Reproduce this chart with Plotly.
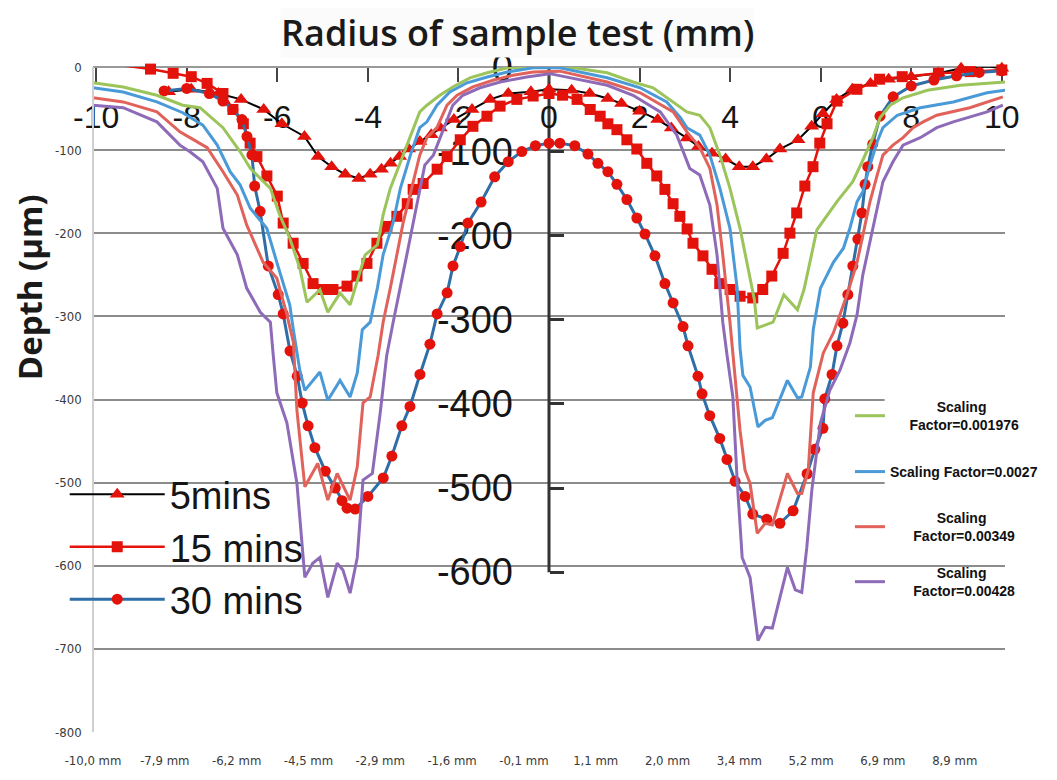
import plotly.graph_objects as go

# ---- overlay chart: depth profiles vs radius (mm / um) ----
t5_x = [-8.4, -7.9, -7.3, -6.8, -6.3, -5.9, -5.4, -5.1, -4.8, -4.5, -4.2, -3.95, -3.7, -3.5, -3.3, -3.1,
        -2.85, -2.6, -2.4, -2.1, -1.7, -1.3, -0.9, -0.4, 0.0, 0.5, 0.9, 1.3, 1.6, 2.0, 2.4, 2.7, 3.05,
        3.3, 3.6, 3.9, 4.2, 4.5, 4.8, 5.1, 5.5, 5.8, 6.05, 6.35, 6.7, 7.1, 7.5, 8.0, 8.6, 9.1, 9.7, 10.0]
t5_y = [-29, -26, -31, -38, -50, -67, -82, -106, -118, -127, -132, -127, -121, -114, -106, -97,
        -88, -80, -72, -62, -50, -38, -31, -29, -26, -27, -31, -37, -43, -52, -62, -72, -84,
        -94, -102, -109, -118, -118, -109, -97, -86, -70, -55, -38, -26, -19, -14, -11, -7, -1, 1, -1]

t15_x = [-9.5, -8.8, -8.3, -7.9, -7.55, -7.2, -6.98, -6.75, -6.6, -6.45, -6.23, -6.0, -5.87, -5.65,
         -5.43, -5.21, -4.99, -4.77, -4.46, -4.24, -4.02, -3.8, -3.58, -3.36, -3.13, -3.0, -2.78,
         -2.47, -2.25, -1.96, -1.68, -1.37, -1.08, -0.71, -0.35, 0.0, 0.3, 0.62, 0.91, 1.13, 1.3,
         1.5, 1.72, 1.94, 2.16, 2.38, 2.56, 2.74, 2.89, 3.05, 3.18, 3.4, 3.6, 3.77, 4.0, 4.22, 4.5,
         4.72, 4.92, 5.17, 5.32, 5.47, 5.65, 5.83, 5.98, 6.14, 6.36, 6.8, 7.3, 7.8, 8.6, 9.3, 10.0]
t15_y = [3, -2, -7, -11, -19, -31, -50, -67, -90, -106, -129, -153, -185, -209,
         -233, -257, -264, -264, -260, -248, -233, -209, -189, -177, -162, -145, -138,
         -121, -106, -86, -70, -58, -46, -38, -34, -31, -33, -38, -50, -58, -67,
         -74, -86, -97, -114, -129, -145, -162, -177, -192, -209, -224, -240, -257, -264, -272, -274,
         -264, -248, -221, -197, -173, -141, -118, -90, -67, -40, -26, -14, -11, -7, -5, -3]

t30_x = [-8.5, -8.0, -7.5, -7.2, -6.98, -6.78, -6.67, -6.56, -6.5, -6.38, -6.2, -5.98, -5.87, -5.72,
         -5.56, -5.45, -5.32, -5.17, -4.94, -4.72, -4.57, -4.46, -4.28, -4.0, -3.66, -3.47, -3.25,
         -3.07, -2.85, -2.63, -2.47, -2.25, -2.12, -1.96, -1.79, -1.5, -1.2, -0.9, -0.6, -0.3, 0.0,
         0.24, 0.57, 0.86, 1.08, 1.3, 1.5, 1.72, 1.94, 2.12, 2.34, 2.56, 2.74, 2.96, 3.07, 3.29,
         3.38, 3.55, 3.77, 3.93, 4.11, 4.33, 4.5, 4.81, 5.1, 5.39, 5.7, 5.87, 6.05, 6.09, 6.25,
         6.36, 6.49, 6.6, 6.71, 6.82, 6.91, 6.98, 7.04, 7.15, 7.31, 7.6, 8.0, 8.5, 9.0, 9.5, 10.0]
t30_y = [-28, -25, -31, -40, -50, -62, -82, -104, -141, -171, -236, -270, -293, -337,
         -367, -399, -426, -452, -480, -500, -515, -524, -525, -510, -488, -462, -426,
         -403, -365, -329, -293, -268, -236, -213, -185, -160, -130, -112, -100, -93, -90,
         -90, -93, -103, -114, -124, -139, -157, -179, -198, -224, -257, -280, -308, -331, -367,
         -388, -414, -441, -466, -492, -510, -531, -537, -542, -527, -483, -454, -429, -394, -365,
         -331, -304, -270, -236, -204, -173, -139, -118, -91, -58, -35, -22, -15, -10, -6, -4]

# ---- base chart: simulated profiles on a category axis (index 0..127) ----
cat_labels = ["-10,0 mm", "-7,9 mm", "-6,2 mm", "-4,5 mm", "-2,9 mm", "-1,6 mm", "-0,1 mm",
              "1,1 mm", "2,0 mm", "3,4 mm", "5,2 mm", "6,9 mm", "8,9 mm"]

green_u = [0, 4.2, 8.9, 12.5, 14.9, 18.1, 20.5, 21.9, 24.7, 26.0, 27.4, 28.8, 29.8, 31.6, 32.7, 34.4,
           35.8, 36.9, 37.9, 39.6, 40.4, 41.4, 42.8, 44.2, 45.5, 46.5, 48.3, 50.1, 52.5, 54.9, 57.7,
           61.3, 66.9, 71.6, 75.2, 78.0, 80.8, 82.7, 84.5, 85.9, 87.3, 88.7, 90.1, 91.1, 92.1, 92.5,
           93.9, 94.7, 96.2, 98.1, 99.0, 100.8, 103.6, 105.8, 107.1, 108.6, 109.6, 111.0, 112.8,
           116.2, 120.8, 125.9, 127]
green_v = [-19, -24, -34, -46, -49, -73, -102, -122, -146, -178, -206, -242, -283, -268, -295, -272,
           -286, -254, -226, -214, -178, -146, -114, -82, -54, -46, -34, -24, -13, -7, -1,
           0, -1, -7, -18, -25, -42, -54, -58, -73, -106, -146, -194, -235, -280, -314,
           -310, -307, -274, -292, -268, -196, -162, -138, -114, -85, -61, -46, -37,
           -28, -22, -19, -18]

blue_u = [0, 4.2, 8.9, 12.5, 15.3, 17.3, 19.1, 20.5, 21.9, 24.2, 25.6, 27.4, 27.9, 28.8, 29.5, 31.6,
          32.7, 34.4, 35.8, 36.8, 37.5, 38.6, 39.6, 40.4, 41.8, 42.8, 44.2, 45.5, 46.5, 47.9, 49.7,
          52.1, 54.9, 57.7, 61.3, 65.0, 71.6, 76.2, 79.9, 81.8, 82.7, 84.5, 85.9, 87.3, 88.7, 89.7,
          90.1, 90.5, 91.5, 92.6, 93.6, 94.6, 96.7, 98.1, 98.7, 99.9, 100.3, 101.3, 103.1, 104.5,
          105.4, 106.4, 107.2, 108.2, 109.2, 110.0, 112.0, 115.2, 119.8, 124.5, 127]
blue_v = [-25, -30, -42, -55, -70, -94, -126, -142, -170, -194, -235, -286, -316, -365, -389, -367,
          -401, -377, -397, -368, -316, -307, -266, -226, -187, -146, -106, -73, -66, -46, -30,
          -19, -12, -6, -1, -1, -13, -25, -42, -61, -73, -82, -106, -146, -194, -266,
          -338, -371, -385, -433, -425, -422, -377, -398, -397, -361, -316, -266, -235, -218,
          -194, -162, -150, -118, -90, -73, -58, -49, -42, -31, -28]

red_u = [0, 4.2, 8.9, 12.1, 13.5, 15.9, 18.1, 20.1, 21.4, 23.7, 25.6, 27.0, 27.9, 28.4, 29.5, 31.3,
         32.7, 34.0, 35.8, 36.8, 37.6, 38.6, 39.7, 40.4, 41.4, 42.3, 43.2, 44.6, 45.5, 46.5, 47.9,
         49.3, 50.7, 52.9, 55.7, 58.5, 61.3, 65.0, 71.6, 76.2, 80.8, 82.7, 84.5, 85.9, 86.9, 87.7,
         88.7, 90.1, 90.8, 91.5, 92.5, 93.6, 94.6, 96.7, 98.1, 98.7, 99.6, 100.3, 101.7, 103.1,
         105.0, 106.4, 107.2, 108.2, 109.2, 110.0, 111.4, 112.8, 114.2, 115.6, 117.5, 122.1, 126.7]
red_v = [-37, -42, -54, -78, -85, -97, -126, -154, -190, -235, -254, -298, -331, -413, -505, -477,
         -521, -489, -521, -481, -404, -397, -347, -307, -266, -226, -187, -138, -106, -85, -73,
         -46, -34, -24, -16, -10, -6, -5, -18, -31, -54, -78, -97, -122, -166, -226,
         -307, -437, -485, -501, -561, -549, -551, -489, -513, -513, -485, -392, -344, -320,
         -274, -235, -202, -162, -130, -106, -94, -85, -73, -66, -58, -49, -36]

purple_u = [0, 4.2, 8.9, 12.1, 13.5, 15.3, 17.3, 18.1, 20.1, 21.4, 23.3, 24.7, 25.1, 25.6, 27.0, 28.4,
            29.5, 30.6, 31.6, 32.7, 34.0, 34.8, 35.8, 36.8, 37.6, 38.9, 40.0, 40.9, 41.8, 42.8, 43.7,
            44.6, 45.5, 46.2, 47.4, 48.7, 50.1, 51.5, 53.9, 56.7, 60.4, 63.6, 71.6, 75.2, 79.0, 81.3,
            83.1, 84.5, 85.9, 86.9, 87.7, 88.3, 89.1, 89.7, 90.4, 91.5, 92.6, 93.6, 94.6, 96.7, 97.8,
            98.7, 99.4, 100.1, 101.3, 102.6, 104.0, 105.4, 106.4, 107.2, 108.2, 109.2, 110.0, 111.4,
            112.8, 115.2, 117.5, 119.8, 124.5, 126.7]
purple_v = [-46, -49, -66, -94, -102, -114, -146, -194, -226, -266, -295, -307, -347, -392, -428, -501,
            -614, -597, -590, -638, -597, -605, -633, -590, -497, -489, -416, -347, -307, -266, -226,
            -187, -146, -118, -106, -78, -46, -34, -25, -18, -12, -8, -22, -34, -54, -82,
            -122, -130, -166, -226, -307, -347, -397, -497, -590, -614, -690, -674, -675, -602, -629,
            -632, -578, -509, -428, -389, -365, -332, -298, -250, -211, -170, -138, -114,
            -94, -85, -73, -66, -54, -46]

mm_ticks = list(range(-10, 11, 2))
um_ticks = [0, -100, -200, -300, -400, -500, -600]
base_ticks = list(range(-800, 1, 100))

NB = "\u00a0"
RED = "#e3120b"

fig = go.Figure()

# overlay time curves (drawn first, underneath)
fig.add_trace(go.Scatter(x=t5_x, y=t5_y, name="5mins", mode="lines+markers", cliponaxis=False,
                         line=dict(color="black", width=2),
                         marker=dict(symbol="triangle-up", size=13, color=RED), legend="legend"))
fig.add_trace(go.Scatter(x=t15_x, y=t15_y, name="15 mins", mode="lines+markers", cliponaxis=False,
                         line=dict(color=RED, width=2.5),
                         marker=dict(symbol="square", size=11, color=RED), legend="legend"))
fig.add_trace(go.Scatter(x=t30_x, y=t30_y, name="30 mins", mode="lines+markers", cliponaxis=False,
                         line=dict(color="#2f6ea6", width=3),
                         marker=dict(symbol="circle", size=11, color=RED), legend="legend"))

# base chart lines, each with its own small legend box on the right
base = [
    (green_u, green_v, "#9bc45a", NB * 12 + "Scaling<br>" + NB * 5 + "Factor=0.001976", 0.4752),
    (blue_u, blue_v, "#4a9ad8", "Scaling Factor=0.0027", 0.3910),
    (red_u, red_v, "#e0625a", NB * 12 + "Scaling<br>" + NB * 6 + "Factor=0.00349", 0.3083),
    (purple_u, purple_v, "#8e6bb8", NB * 12 + "Scaling<br>" + NB * 6 + "Factor=0.00428", 0.2256),
]
legend_boxes = {}
for i, (u, v, col, nm, ly) in enumerate(base):
    key = "legend%d" % (i + 2)
    fig.add_trace(go.Scatter(x=u, y=v, xaxis="x2", yaxis="y2", mode="lines", name=nm,
                             line=dict(color=col, width=3), legend=key))
    legend_boxes[key] = dict(x=0.83, y=ly, xanchor="left", yanchor="middle",
                             bgcolor="rgba(0,0,0,0)", itemwidth=30,
                             font=dict(family="Liberation Sans", size=14, color="#111",
                                       weight="bold"))

big_font = dict(family="Liberation Sans", color="#151515")
small_font = dict(family="DejaVu Sans Condensed, Liberation Sans", size=13, color="#3a3a3a")

fig.update_layout(
    width=1049, height=772,
    margin=dict(l=85, r=52, t=59, b=48, autoexpand=False),
    paper_bgcolor="white", plot_bgcolor="white",
    xaxis=dict(range=[-10.07, 10.07], anchor="free", position=1, side="bottom",
               tickvals=mm_ticks, ticktext=[str(t) for t in mm_ticks],
               ticks="outside", ticklen=14, tickwidth=2,
               tickcolor="#444", showline=True, linecolor="#9a9a9a", linewidth=2,
               showgrid=False, zeroline=False, layer="below traces",
               tickfont=dict(size=32, **big_font), ticklabelstandoff=8),
    yaxis=dict(range=[-790, 0.5], anchor="free", position=0.5, side="left",
               tickvals=um_ticks, ticktext=[str(t) for t in um_ticks],
               ticks="inside", ticklen=14,
               tickwidth=3, tickcolor="#333", showline=False, showgrid=False, zeroline=False,
               layer="below traces", tickfont=dict(size=38, **big_font), ticklabelstandoff=36),
    xaxis2=dict(overlaying="x", range=[0, 127], anchor="free", position=0, side="bottom",
                tickvals=list(range(0, 121, 10)), ticktext=cat_labels, ticks="",
                showgrid=False, zeroline=False, showline=False, tickfont=small_font,
                ticklabelstandoff=19),
    yaxis2=dict(overlaying="y", range=[-800, 0], anchor="free", position=0, side="left",
                tickvals=base_ticks, ticktext=[str(t) for t in base_ticks],
                ticks="", showgrid=True, gridcolor="#8c8c8c",
                gridwidth=1.5, showline=True, linecolor="#d0d0d0", linewidth=1.5,
                zeroline=False, tickfont=small_font, ticklabelstandoff=8),
    legend=dict(x=-0.031, y=0.278, xanchor="left", yanchor="middle", bgcolor="rgba(0,0,0,0)",
                font=dict(size=38, **big_font), itemwidth=95, tracegroupgap=0),
    shapes=[
        # vertical axis of the overlay chart, stopping at -600
        dict(type="line", xref="x", yref="y", x0=0, x1=0, y0=0, y1=-600,
             line=dict(color="#333", width=3), layer="between"),
        # white box behind the scaling-factor legend
        dict(type="rect", xref="paper", yref="paper", x0=0.868, x1=1.06, y0=0.277, y1=0.511,
             fillcolor="white", line=dict(width=0), layer="above"),
    ],
    annotations=[
        dict(text="Radius of sample test (mm)", xref="paper", yref="paper", x=0.465, y=1.052,
             xanchor="center", yanchor="middle",
             showarrow=False, font=dict(family="Open Sans", size=36, color="#1a1a1a", weight=600),
             bgcolor="#fbfbfb", borderpad=0),
        dict(text="Depth (\u00b5m)", xref="paper", yref="paper", x=-0.07, y=0.669,
             xanchor="center", yanchor="middle", textangle=-90, showarrow=False,
             font=dict(family="Open Sans", size=33, color="#1a1a1a", weight="bold")),
    ],
    **legend_boxes,
)

fig.write_html("out.html")
